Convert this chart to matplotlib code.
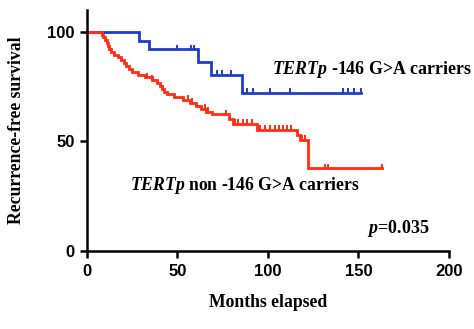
import matplotlib
matplotlib.use("Agg")
import matplotlib.pyplot as plt

# ---- data ----
# TERTp -146 G>A carriers (blue)
blue_t = [0, 28.7, 34.0, 61.5, 68.3, 85.5]
blue_s = [100, 96.0, 92.0, 86.3, 80.2, 72.3]
blue_end = 151.4
blue_cens = [50.0, 57.5, 59.3, 71.9, 74.4, 79.4, 88.6, 91.5, 101.0, 112.0,
             141.6, 144.4, 147.5, 151.4]

# TERTp non -146 G>A carriers (red)
red_t = [0, 8.1, 9.0, 10.0, 10.8, 11.5, 12.3, 13.0, 15.0, 17.0, 19.0, 20.5,
         21.5, 23.0, 25.0, 28.0, 32.0, 36.0, 38.5, 40.5, 41.5, 42.5, 44.0,
         48.0, 53.0, 57.0, 60.0, 63.0, 66.0, 69.0, 78.5, 80.8, 93.7, 116.0,
         118.0, 122.3]
red_s = [100, 98.7, 97.4, 96.1, 94.8, 93.5, 92.2, 90.9, 89.6, 88.3, 87.0, 85.7,
         84.4, 83.1, 81.8, 80.5, 79.2, 77.9, 76.6, 75.3, 74.0, 72.7, 71.4,
         70.1, 68.8, 67.5, 66.2, 64.9, 63.6, 62.3, 60.4, 57.8, 55.4, 53.0,
         50.7, 37.7]
red_end = 163.0
red_cens = [33.0, 36.0, 56.0, 58.0, 65.0, 67.0, 77.0, 81.8, 83.4, 86.2, 88.4,
            91.0, 95.6, 98.3, 101.0, 103.9, 106.0, 108.5, 110.5, 112.5,
            119.0, 120.5, 131.5, 133.3, 163.0]

x_ticks = [0, 50, 100, 150, 200]
y_ticks = [0, 50, 100]

BLUE = "#1e3cd2"
RED = "#ff2d14"

plt.rcParams["mathtext.fontset"] = "custom"
plt.rcParams["mathtext.it"] = "Liberation Serif:italic:bold"
plt.rcParams["mathtext.rm"] = "Liberation Serif:bold"

fig = plt.figure(figsize=(4.74, 3.29), dpi=100)
ax = fig.add_axes([0.1835, 0.237, 0.7635, 0.733])


def level_at(t_list, s_list, t):
    lev = s_list[0]
    for tt, ss in zip(t_list, s_list):
        if tt <= t:
            lev = ss
    return lev


def km(t_list, s_list, t_end, cens, color):
    ax.step(t_list + [t_end], s_list + [s_list[-1]], where="post",
            color=color, lw=2.0, solid_joinstyle="miter")
    for c in cens:
        lev = level_at(t_list, s_list, c)
        ax.vlines(c, lev, lev + 2.2, color=color, lw=1.4)


# blue first so the red curve sits on top where both start at 100
km(blue_t, blue_s, blue_end, blue_cens, BLUE)
km(red_t, red_s, red_end, red_cens, RED)

ax.set_xlim(0, 200)
ax.set_ylim(0, 110)
ax.set_xticks(x_ticks)
ax.set_yticks(y_ticks)
for s in ["top", "right"]:
    ax.spines[s].set_visible(False)
for s in ["left", "bottom"]:
    ax.spines[s].set_linewidth(1.8)
ax.spines["bottom"].set_bounds(0, 200)
ax.tick_params(direction="out", length=5, width=1.8, pad=4)
for lab in ax.get_xticklabels() + ax.get_yticklabels():
    lab.set_fontfamily("Liberation Sans")
    lab.set_fontweight("bold")
    lab.set_fontsize(12)

serif = dict(family="Liberation Serif", weight="bold")
ax.set_xlabel("Months elapsed", fontsize=12.7, labelpad=11, **serif)
ax.set_ylabel("Recurrence-free survival", fontsize=12.7, labelpad=16, **serif)

ax.text(102.5, 82.6, r"$\mathit{TERTp}$ -146 G>A carriers", fontsize=12.9,
        va="center", ha="left", **serif)
ax.text(23.8, 30.1, r"$\mathit{TERTp}$ non -146 G>A carriers", fontsize=12.7,
        va="center", ha="left", **serif)
ax.text(189, 10.5, r"$\mathit{p}$=0.035", fontsize=13, va="center",
        ha="right", **serif)

fig.savefig("out.png", dpi=100)
